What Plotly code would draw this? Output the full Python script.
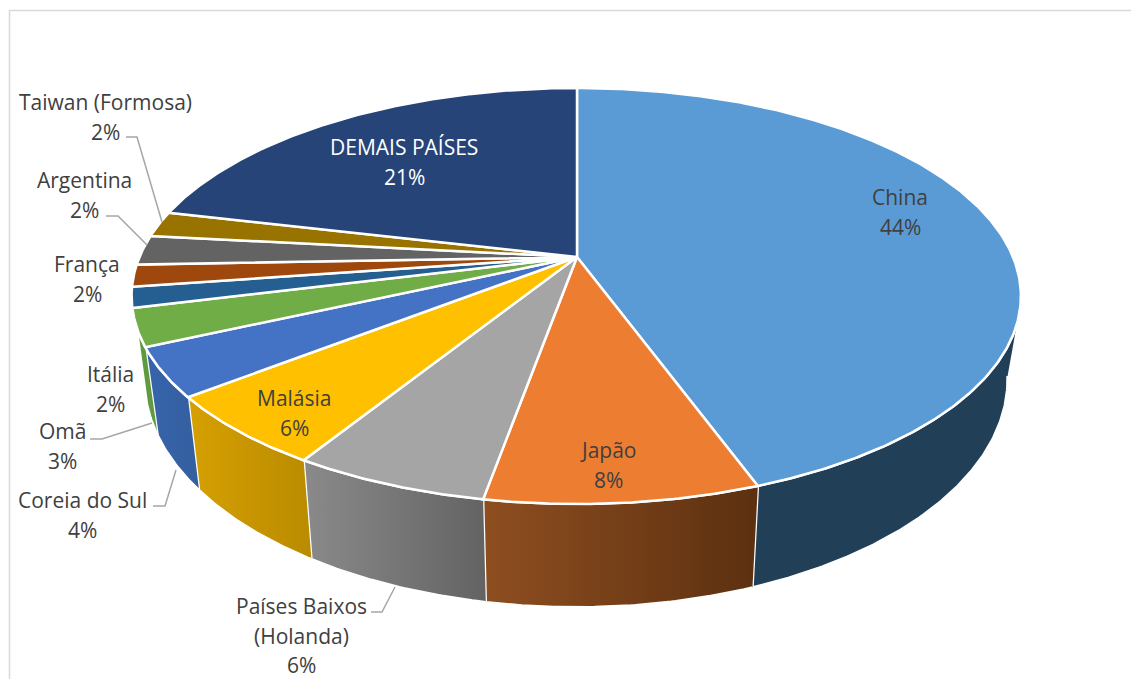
import numpy as np
import plotly.graph_objects as go

# ---- data ----
categories = ["China", "Japão", "Países Baixos\n(Holanda)", "Malásia", "Coreia do Sul", "Omã",
              "Itália", "França", "Argentina", "Taiwan (Formosa)", "DEMAIS PAÍSES"]
values = [44.45, 8.35, 6.0, 5.6, 3.8, 2.9, 1.6, 1.7, 2.3, 2.0, 21.3]
percent_labels = ["44%", "8%", "6%", "6%", "4%", "3%", "2%", "2%", "2%", "2%", "21%"]

# ---- styles ----
top_colors = ["#5B9BD5", "#ED7D31", "#A5A5A5", "#FFC000", "#4472C4", "#70AD47",
              "#255E91", "#9E480E", "#636363", "#997300", "#264478"]
wall_colors = [("#223F58", "#223F58"), ("#8E4E20", "#5C3010"), ("#8A8A8A", "#636363"),
               ("#D6A002", "#BA8B00"), ("#3764AC", "#345F9F"), ("#5F9A3F", "#5F9A3F"),
               None, None, None, None, None]
label_pos = [(900, 197), (608, 450), (301, 606), (294, 398), (82, 500), (62, 431),
             (110, 374), (87, 264), (84, 180), (105, 102), (404, 147)]
label_colors = ["#404040"] * 10 + ["#FFFFFF"]
LINE_STEP = 29.5
FONT = "Open Sans"
FONT_SIZE = 21

leaders = ["M126,137 L137,137 L162,222", "M106,216 L118,216 L147,245",
           "M90,439 L102,439 L152,423", "M153,506 L165,506 L176,470",
           "M371,612 L382,612 L395,587"]

# perspective projection of the pie disc onto the page
TOP = dict(cx=577, cy=257, AR=436, AL=437.5, B=200.7, k=0.1875)
BOTTOM = dict(cx=577, cy=336.5, AR=423, AL=425, B=220, k=0.1875)
WALL_TOP_RANGE = (108, 251)
WALL_BOTTOM_RANGE = (100, 253)


def project(deg, p):
    t = np.radians(deg)
    u, v = np.sin(t), -np.cos(t)
    d = 1 - p["k"] * v
    return p["cx"] + np.where(u > 0, p["AR"], p["AL"]) * u / d, p["cy"] + p["B"] * v / d


def arc(a, b, p):
    n = max(2, int(abs(b - a) * 2) + 1)
    return project(np.linspace(a, b, n), p)


edges = np.concatenate([[0], np.cumsum(values)]) / sum(values) * 360
fig = go.Figure()

# side walls
for i, colors in enumerate(wall_colors):
    if colors is None:
        continue
    a, b = edges[i], edges[i + 1]
    xt, yt = arc(max(a, WALL_TOP_RANGE[0]), min(b, WALL_TOP_RANGE[1]), TOP)
    xb, yb = arc(min(b, WALL_BOTTOM_RANGE[1]), max(a, WALL_BOTTOM_RANGE[0]), BOTTOM)
    fig.add_trace(go.Scatter(
        x=np.concatenate([xt, xb]), y=np.concatenate([yt, yb]),
        mode="lines", fill="toself", hoverinfo="skip",
        line=dict(color="white", width=2.5),
        fillgradient=dict(type="horizontal", colorscale=[[0, colors[0]], [1, colors[1]]]),
    ))

# top faces
for i in range(len(values)):
    xa, ya = arc(edges[i], edges[i + 1], TOP)
    cx, cy = TOP["cx"], TOP["cy"]
    fig.add_trace(go.Scatter(
        x=np.concatenate([[cx], xa, [cx]]), y=np.concatenate([[cy], ya, [cy]]),
        mode="lines", fill="toself", fillcolor=top_colors[i], hoverinfo="skip",
        line=dict(color="white", width=2.5),
    ))

# labels
annotations = []
for name, pct, (lx, ly), col in zip(categories, percent_labels, label_pos, label_colors):
    for j, line in enumerate(name.split("\n") + [pct]):
        annotations.append(dict(x=lx, y=ly + j * LINE_STEP, text=line, showarrow=False,
                                xanchor="center", yanchor="middle",
                                font=dict(family=FONT, size=FONT_SIZE, color=col)))

shapes = [dict(type="path", path=p, line=dict(color="#A6A6A6", width=1.5)) for p in leaders]
shapes += [
    dict(type="line", x0=9.5, x1=9.5, y0=10, y1=679, line=dict(color="#D9D9D9", width=1.5)),
    dict(type="line", x0=9, x1=1131, y0=10.5, y1=10.5, line=dict(color="#D9D9D9", width=1.5)),
]

fig.update_layout(
    width=1131, height=679, margin=dict(l=0, r=0, t=0, b=0), showlegend=False,
    paper_bgcolor="white", plot_bgcolor="white",
    xaxis=dict(range=[0, 1131], visible=False, fixedrange=True),
    yaxis=dict(range=[679, 0], visible=False, fixedrange=True),
    annotations=annotations, shapes=shapes,
)
fig.write_html("out.html", config=dict(displayModeBar=False),
               post_script="document.body.style.margin='0';document.body.style.overflow='hidden';")
